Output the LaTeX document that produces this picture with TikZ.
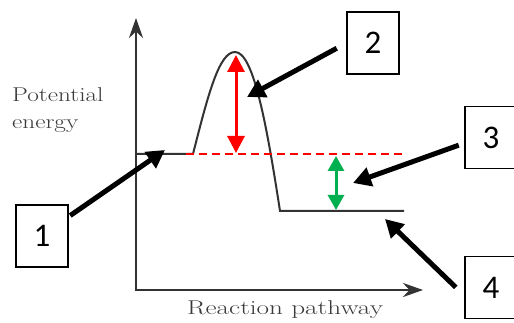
\documentclass[tikz,border=0pt]{standalone}
\usepackage{fontspec}
\usetikzlibrary{arrows.meta,positioning,calc}
\newfontfamily\numfont{Carlito}
\definecolor{darkline}{HTML}{333333}
\definecolor{axisgray}{HTML}{3A3A3A}
\definecolor{barrierred}{HTML}{FF0000}
\definecolor{deltagreen}{HTML}{00B050}

\begin{document}
\begin{tikzpicture}[x=1pt,y=-1pt,
    numbox/.style={draw,line width=1.2pt,minimum width=52pt,minimum height=62pt,inner sep=0pt,font=\numfont\fontsize{33}{33}\selectfont},
    pointer/.style={line width=5pt,-{Triangle[length=18pt,width=19pt]}},
    axislabel/.style={text=axisgray,inner sep=0pt,font=\fontsize{20}{27}\selectfont}]
  \clip (0,0) rectangle (514,323);
  \fill[white] (0,0) rectangle (514,323);
  \draw[line width=2.8pt,darkline,{Stealth[length=20pt,width=14pt]}-{Stealth[length=20pt,width=14pt]}] (136,18) -- (136,290) -- (423,290);
  \draw[line width=2pt,darkline] (136,154) -- (193,154) .. controls (208,95) and (219,52) .. (235,52)
    .. controls (253,52) and (266,120) .. (280,211) -- (404,211);
  \draw[barrierred,line width=1.5pt,dash pattern=on 8pt off 5pt] (186,154) -- (403,154);
  \draw[barrierred,line width=3pt,{Triangle[length=17pt,width=17pt]}-{Triangle[length=17pt,width=17pt]}] (236,55) -- (236,153);
  \draw[deltagreen,line width=3pt,{Triangle[length=15pt,width=16pt]}-{Triangle[length=15pt,width=16pt]}] (336,156) -- (336,210);
  \node[axislabel,align=left,anchor=north west] (ylabel) at (12,87) {\scalebox{1.26}[1]{Potential}\\\scalebox{1.26}[1]{energy}};
  \node[axislabel,anchor=base west] (xlabel) at (187,314) {\scalebox{1.36}[1]{Reaction pathway}};
  \node[numbox] (box1) at (42,236) {1};
  \node[numbox] (box2) at (373,43) {2};
  \node[numbox] (box3) at (491,137.5) {3};
  \node[numbox] (box4) at (491,287.5) {4};
  \coordinate (reactant) at (165,150);
  \coordinate (peak) at (247,97);
  \coordinate (gap) at (353,183);
  \coordinate (product) at (385,219);
  \draw[pointer,shorten <=2pt] (box1.36) -- (reactant);
  \draw[pointer,shorten <=11pt] (box2.west) -- (peak);
  \draw[pointer,shorten <=6pt] (box3.192) -- (gap);
  \draw[pointer,shorten <=12pt] (box4.197) -- (product);
\end{tikzpicture}
\end{document}
